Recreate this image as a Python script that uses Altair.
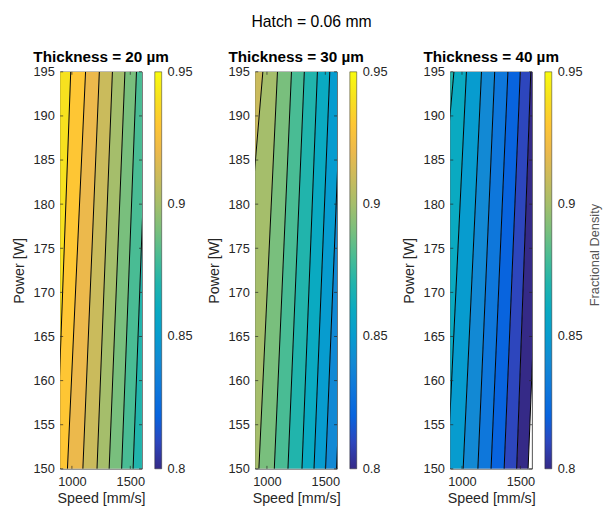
import altair as alt
import pandas as pd

# ---------------- data ----------------
MAIN_TITLE = "Hatch = 0.06 mm"
THICKNESS = [20, 30, 40]
POWER_RANGE = [150, 195]
SPEED_DOMAIN = [900, 1600]
POWER_TICKS = [150, 155, 160, 165, 170, 175, 180, 185, 190, 195]
SPEED_TICKS = [1000, 1500]
CBAR_DOMAIN = [0.79999, 0.95001]
CBAR_TICKS = [0.8, 0.85, 0.9, 0.95]
LEVEL_STEP = 0.01
CBAR_LABEL = "Fractional Density"

# contour lines: level, speed where the line meets P=195 W and P=150 W
LEVELS_20 = [0.94, 0.93, 0.92, 0.91, 0.90, 0.89, 0.88]
SPEED_AT_195_20 = [990, 1117, 1235, 1347, 1454, 1553, 1651]
SPEED_AT_150_20 = [865, 962, 1094, 1215, 1319, 1426, 1524]

LEVELS_30 = [0.91, 0.90, 0.89, 0.88, 0.87, 0.86, 0.85, 0.84]
SPEED_AT_195_30 = [965, 1090, 1210, 1320, 1432, 1538, 1638, 1735]
SPEED_AT_150_30 = [680, 931, 1063, 1180, 1300, 1403, 1502, 1596]

LEVELS_40 = [0.87, 0.86, 0.85, 0.84, 0.83, 0.82, 0.81, 0.80]
SPEED_AT_195_40 = [931, 1038, 1167, 1280, 1393, 1499, 1589, 1701]
SPEED_AT_150_40 = [624, 875, 1010, 1136, 1249, 1361, 1468, 1566]

# region beyond the lowest contour filled? (below 0.8 stays white)
FILL_LAST = [True, True, False]

PARULA = ["#352a87", "#353dad", "#2053d4", "#0268e1", "#0d75dc", "#1481d6",
          "#108ed2", "#079ccf", "#06a7c6", "#0faeb9", "#25b5a9", "#42bb98",
          "#65be86", "#87bf77", "#a5be6b", "#c0bc60", "#d9ba56", "#f1b94a",
          "#ffc337", "#fad32a", "#f5eb18", "#f9fb0e"]

PANELS = [
    (THICKNESS[0], LEVELS_20, SPEED_AT_195_20, SPEED_AT_150_20, FILL_LAST[0]),
    (THICKNESS[1], LEVELS_30, SPEED_AT_195_30, SPEED_AT_150_30, FILL_LAST[1]),
    (THICKNESS[2], LEVELS_40, SPEED_AT_195_40, SPEED_AT_150_40, FILL_LAST[2]),
]

# ---------------- styling ----------------
FONT = "Liberation Sans"
TXT = "#262626"
W, H = 83, 403
FAR_LEFT, FAR_RIGHT = 700, 1800   # band extents outside the (clipped) plot

x_scale = alt.Scale(domain=SPEED_DOMAIN, nice=False, zero=False)
y_scale = alt.Scale(domain=POWER_RANGE, nice=False, zero=False)
x_axis = alt.Axis(values=SPEED_TICKS, format="d", title="Speed [mm/s]")
y_axis = alt.Axis(values=POWER_TICKS, format="d", title="Power [W]")


def band_frame(levels, top, bot, fill_last):
    rows = []
    n = len(levels)
    for i in range(n + (1 if fill_last else 0)):
        if i == 0:
            lt, lb = FAR_LEFT, FAR_LEFT
        else:
            lt, lb = top[i - 1], bot[i - 1]
        if i < n:
            rt, rb, lev = top[i], bot[i], levels[i]
        else:
            rt, rb, lev = FAR_RIGHT, FAR_RIGHT, round(levels[-1] - LEVEL_STEP, 3)
        rows.append(dict(band=i, level=lev, power=POWER_RANGE[1], left=lt, right=rt))
        rows.append(dict(band=i, level=lev, power=POWER_RANGE[0], left=lb, right=rb))
    return pd.DataFrame(rows)


def line_frame(levels, top, bot):
    rows = []
    for i, lev in enumerate(levels):
        rows.append(dict(line=i, level=lev, power=POWER_RANGE[1], speed=top[i]))
        rows.append(dict(line=i, level=lev, power=POWER_RANGE[0], speed=bot[i]))
    return pd.DataFrame(rows)


def panel(thk, levels, top, bot, fill_last, last):
    bdf = band_frame(levels, top, bot, fill_last)
    ldf = line_frame(levels, top, bot)

    legend = alt.Legend(title=None, values=CBAR_TICKS, format=".2~f", type="gradient",
                        direction="vertical", orient="right", offset=13,
                        gradientLength=H, gradientThickness=7,
                        gradientStrokeColor=TXT, gradientStrokeWidth=0.5,
                        labelOffset=6, labelFontSize=13, labelFont=FONT,
                        labelColor=TXT, labelOverlap=False, padding=0)

    area = alt.Chart(bdf).mark_area(orient="horizontal", clip=True).encode(
        y=alt.Y("power:Q", scale=y_scale, axis=y_axis),
        x=alt.X("left:Q", scale=x_scale, axis=x_axis, stack=False),
        x2="right:Q",
        detail="band:N",
        color=alt.Color("level:Q", scale=alt.Scale(domain=CBAR_DOMAIN, range=PARULA,
                                                  interpolate="rgb"),
                        legend=legend),
    )

    lines = alt.Chart(ldf).mark_line(clip=True, color="black", strokeWidth=1.0).encode(
        x=alt.X("speed:Q", scale=x_scale, axis=x_axis),
        y=alt.Y("power:Q", scale=y_scale, axis=y_axis),
        detail="line:N",
    )

    pt = pd.DataFrame({"power": POWER_TICKS})
    st = pd.DataFrame({"speed": SPEED_TICKS})
    tick_style = dict(color=TXT, strokeWidth=0.7)
    yt_left = alt.Chart(pt).mark_rule(**tick_style).encode(
        y=alt.Y("power:Q", scale=y_scale, axis=y_axis), x=alt.value(0), x2=alt.value(3))
    yt_right = alt.Chart(pt).mark_rule(**tick_style).encode(
        y=alt.Y("power:Q", scale=y_scale, axis=y_axis), x=alt.value(W - 3), x2=alt.value(W))
    xt_bot = alt.Chart(st).mark_rule(**tick_style).encode(
        x=alt.X("speed:Q", scale=x_scale, axis=x_axis), y=alt.value(H - 3), y2=alt.value(H))
    xt_top = alt.Chart(st).mark_rule(**tick_style).encode(
        x=alt.X("speed:Q", scale=x_scale, axis=x_axis), y=alt.value(0), y2=alt.value(3))

    layers = [area, lines, yt_left, yt_right, xt_bot, xt_top]
    if last:
        lab = alt.Chart(pd.DataFrame({"t": [CBAR_LABEL]})).mark_text(
            angle=270, font=FONT, fontSize=13, color="#555555", baseline="middle",
            align="center").encode(text="t:N", x=alt.value(147), y=alt.value(186))
        layers.append(lab)

    return alt.layer(*layers).properties(
        width=W, height=H,
        title=alt.TitleParams(f"Thickness = {thk} µm", font=FONT, fontSize=15.5,
                              fontWeight="bold", color="black", anchor="middle",
                              offset=0),
    )


charts = [panel(*p, last=(i == 2)) for i, p in enumerate(PANELS)]

chart = alt.hconcat(*charts, spacing=115, bounds="flush").resolve_scale(
    color="independent"
).properties(
    title=alt.TitleParams(MAIN_TITLE, font=FONT, fontSize=16, fontWeight="normal",
                          color="black", anchor="middle", frame="bounds", offset=21,
                          dx=5),
    padding={"left": 2, "top": 2, "right": 0, "bottom": 0},
).configure_view(
    stroke=TXT, strokeWidth=0.8
).configure_axis(
    domain=False, ticks=False, tickSize=0, grid=False,
    labelFont=FONT, labelFontSize=13, labelColor=TXT,
    titleFont=FONT, titleFontSize=14.5, titleFontWeight="normal", titleColor=TXT,
).configure_axisY(
    labelPadding=6, titlePadding=7
).configure_axisX(
    labelPadding=7, titlePadding=3
)

chart.save("out.html", embed_options={"renderer": "svg", "actions": False})
